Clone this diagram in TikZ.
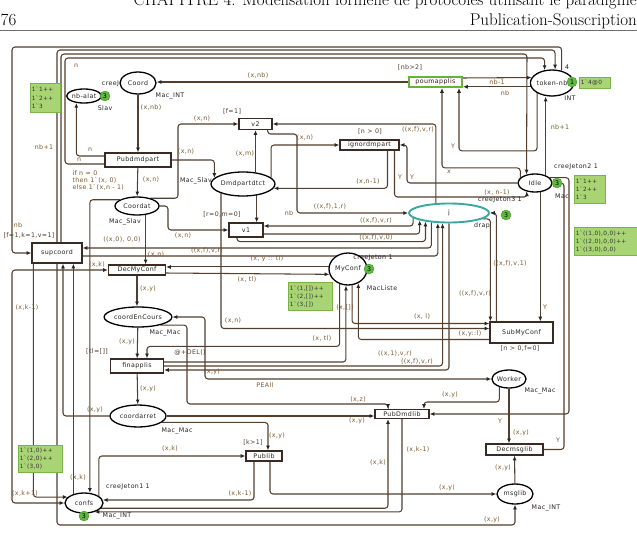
\documentclass[tikz,border=0pt]{standalone}
\usepackage{fontspec}
\usetikzlibrary{shapes.geometric,arrows.meta,calc}
\pgfdeclarelayer{background}
\pgfsetlayers{background,main}
\newfontfamily\cpnfam[LetterSpace=6]{DejaVu Sans}
\newcommand\cpnf{\cpnfam\fontsize{6.3}{7}\selectfont}
\newcommand\mkf{\cpnfam\fontsize{5.8}{8.2}\selectfont}
\definecolor{arcc}{RGB}{84,62,46}
\definecolor{insc}{RGB}{120,88,45}
\definecolor{guardc}{RGB}{78,60,46}
\definecolor{namec}{RGB}{40,36,34}
\definecolor{transc}{RGB}{58,42,34}
\definecolor{tokg}{RGB}{96,184,64}
\definecolor{tokd}{RGB}{70,150,45}
\definecolor{markf}{RGB}{168,212,116}
\definecolor{markd}{RGB}{122,180,72}
\definecolor{tealc}{RGB}{58,168,158}
\definecolor{enab}{RGB}{100,180,60}
\definecolor{rulec}{RGB}{110,110,110}
\begin{document}
\begin{tikzpicture}[x=1pt,y=-1pt,
  place/.style={ellipse, draw=black, line width=1.3pt, fill=white, inner sep=0pt, font=\cpnf, text=namec},
  trans/.style={rectangle, draw=transc, line width=1.2pt, fill=white, inner sep=0pt, font=\cpnf, text=namec},
  cpnarc/.style={draw=arcc, line width=1.05pt, rounded corners=3pt, -{Latex[length=4.8pt,width=4pt,color=black!85]}},
  cpnbiarc/.style={draw=arcc, line width=1.05pt, rounded corners=3pt, {Latex[length=4.8pt,width=4pt,color=black!85]}-{Latex[length=4.8pt,width=4pt,color=black!85]}},
  lblins/.style={font=\cpnf, text=insc, inner sep=0.3pt},
  lblgrd/.style={font=\cpnf, text=guardc, inner sep=0.3pt},
  lblcs/.style={font=\cpnf, text=namec, inner sep=0.3pt},
  tok/.style={circle, fill=tokg, draw=tokd, line width=0.4pt, minimum size=10pt, inner sep=0pt, font=\cpnf, text=black},
  mkbox/.style={rectangle, fill=markf, draw=markd, line width=0.6pt, inner xsep=1.5pt, inner ysep=1pt, font=\mkf, text=black!80, align=left, anchor=north west}]
\useasboundingbox (0,0) rectangle (637,533);

% header
\node[anchor=base east, font=\fontsize{17}{20}\selectfont, inner sep=0pt] (hd1) at (637,5) {CHAPITRE 4. Modélisation formelle de protocoles utilisant le paradigme};
\node[anchor=base east, font=\fontsize{17}{20}\selectfont, inner sep=0pt] (hd2) at (637,25) {Publication-Souscription};
\node[anchor=base west, font=\fontsize{17}{20}\selectfont, inner sep=0pt] (hd3) at (0.5,25) {76};
\draw[rulec, line width=0.5pt] (0,30) -- (637,30);

% places
\node[place, minimum width=36pt, minimum height=22pt] (Coord) at (138,83) {Coord};
\node[place, minimum width=32pt, minimum height=14pt] (nbalat) at (84,96) {nb-alat};
\node[place, minimum width=44pt, minimum height=18pt] (Coordat) at (137,206) {Coordat};
\node[place, minimum width=66pt, minimum height=20pt] (coordEnCours) at (138,317) {coordEnCours};
\node[place, minimum width=56pt, minimum height=22pt] (coordarret) at (138,416) {coordarret};
\node[place, minimum width=38pt, minimum height=20pt] (confs) at (84,503) {confs};
\node[place, minimum width=64pt, minimum height=24pt] (Dmdpartdtct) at (243,184) {Dmdpartdtct};
\node[place, minimum width=38pt, minimum height=32pt] (MyConf) at (348,269) {MyConf};
\node[place, draw=tealc, line width=1.9pt, minimum width=80pt, minimum height=19pt] (j) at (449,213) {j};
\node[place, minimum width=40pt, minimum height=26pt] (tokennb) at (552,83) {token-nb};
\node[place, minimum width=34pt, minimum height=18pt] (Idle) at (535,183) {Idle};
\node[place, minimum width=32pt, minimum height=18pt] (Worker) at (509,379) {Worker};
\node[place, minimum width=36pt, minimum height=20pt] (msglib) at (515,494) {msglib};

% transitions
\node[trans, minimum width=66pt, minimum height=14pt] (Pubdmdpart) at (138,160) {Pubdmdpart};
\node[trans, minimum width=50pt, minimum height=20pt] (supcoord) at (57,253) {supcoord};
\node[trans, minimum width=57pt, minimum height=10pt] (DecMyConf) at (137,270) {DecMyConf};
\node[trans, minimum width=53pt, minimum height=14pt] (finapplis) at (137,366) {finapplis};
\node[trans, minimum width=33pt, minimum height=11pt] (v2) at (255.5,124) {v2};
\node[trans, minimum width=34pt, minimum height=14pt] (v1) at (246,230) {v1};
\node[trans, minimum width=59pt, minimum height=10pt] (ignordmpart) at (369.5,145) {ignordmpart};
\node[trans, draw=enab, line width=1.9pt, minimum width=53pt, minimum height=10pt] (poumapplis) at (435.5,82) {poumapplis};
\node[trans, minimum width=63pt, minimum height=21pt] (SubMyConf) at (521.5,332.5) {SubMyConf};
\node[trans, minimum width=54pt, minimum height=9pt] (PubDmdlib) at (402,414) {PubDmdlib};
\node[trans, minimum width=36pt, minimum height=10pt] (Publib) at (264,456) {Publib};
\node[trans, minimum width=57pt, minimum height=11pt] (Decmsglib) at (514.5,449.5) {Decmsglib};

\begin{pgfonlayer}{background}
% top loops
\draw[cpnarc] (tokennb.52) |- (12,47) |- (supcoord.west);
\draw[cpnarc] (supcoord.north) |- (555,50) -- (tokennb.77);
\draw[cpnarc] ($(supcoord.north)+(4,0)$) |- (527,54) -- (Idle.135);
\draw[cpnarc] ($(Pubdmdpart.west)+(0,4)$) -| (65,58) -| (tokennb.120);
\draw[cpnarc] ($(Pubdmdpart.west)+(0,-4)$) -| (nbalat.222);
% coord part
\draw[cpnarc] (Coord) -- (Pubdmdpart);
\draw[cpnarc] (poumapplis.west) -- (poumapplis.west -| Coord.east);
\draw[cpnarc] (Pubdmdpart) -- (Coordat);
\draw[cpnarc] (Pubdmdpart.east) -| (Dmdpartdtct.168);
\draw[cpnarc] (Coordat.30) -| (178,124) -- (v2.west);
\draw[cpnarc] (Dmdpartdtct.43) -- (Dmdpartdtct.43 |- v2.south);
\draw[cpnarc] (j.143) |- (v2.east);
\draw[cpnarc] ($(v2.south east)+(-5,0)$) |- (297,134) |- (j.west);
\draw[cpnarc] (Dmdpartdtct.13) |- (ignordmpart.west);
\draw[cpnarc] ($(ignordmpart.south)+(18,0)$) |- (Dmdpartdtct.352);
\draw[cpnarc] (Idle.west) -| (407,145) -- (ignordmpart.east);
\draw[cpnarc] ($(ignordmpart.south)+(25,0)$) |- (527,197) -- (Idle.225);
\draw[cpnarc] (Idle.160) |- ($(poumapplis.south)+(6.5,80)$) -- ($(poumapplis.south)+(6.5,0)$);
\draw[cpnarc] (tokennb.214) |- ($(poumapplis.south)+(23.5,63)$) -- ($(poumapplis.south)+(23.5,0)$);
\draw[cpnarc] ($(poumapplis.east)+(0,-4)$) -- (tokennb.165);
\draw[cpnarc] (tokennb.190) -- (tokennb.190 -| poumapplis.east);
\draw[cpnarc] (Idle.36) -- (Idle.36 |- tokennb.south);
\draw[cpnarc] (Decmsglib.east) -| (564,183) -- (Idle.east);
\draw[cpnarc] (Idle.20) -| (569,414) -- (PubDmdlib.east);
\draw[cpnarc] (Idle.300) -- (Idle.300 |- SubMyConf.north);
\draw[cpnarc] ($(SubMyConf.north west)+(7,0)$) |- (j.east);
\draw[cpnarc] (j.350) -| ($(SubMyConf.north west)+(1,0)$);
% j / v1 bundle
\draw[cpnarc] (j.188) |- ($(v1.east)+(0,-4)$);
\draw[cpnarc] ($(v1.east)+(0,4)$) -| (j.194);
\draw[cpnarc] ($(v1.south)+(-9,0)$) -- ++(0,4) -| (j.200);
\draw[cpnarc] (j.208) |- ($(supcoord.east)+(0,-5)$);
\draw[cpnarc] ($(supcoord.east)+(0,3)$) -| (j.222);
\draw[cpnarc] (Dmdpartdtct.320) -- (Dmdpartdtct.320 |- v1.north);
\draw[cpnarc] (Coordat.east) -| (168,230) -- (v1.west);
\draw[cpnarc] (Coordat.314) -- (Coordat.314 |- DecMyConf.north);
\draw[cpnarc] (Coordat.160) -| (confs.60);
% left side
\draw[cpnbiarc] (DecMyConf.west) -| (12,503) -- (confs.west);
\draw[cpnarc] ($(supcoord.south west)+(2,0)$) |- (confs.160);
\draw[cpnarc] (confs.140) -- (confs.140 |- supcoord.south);
\draw[cpnarc] (coordarret.west) -| ($(supcoord.south)+(6,0)$);
\draw[cpnarc] (supcoord.south) -- (57,525) -| (msglib.south);
% central column
\draw[cpnarc] (DecMyConf.south) -- (DecMyConf.south |- coordEnCours.north);
\draw[cpnarc] (coordEnCours) -- (finapplis);
\draw[cpnarc] (finapplis) -- (coordarret);
\draw[cpnarc] (MyConf.174) -- (MyConf.174 -| DecMyConf.east);
\draw[cpnarc] ($(DecMyConf.east)+(0,3)$) -- (MyConf.196);
\draw[cpnarc] (MyConf.241) |- ($(finapplis.north)+(10,-12)$) -- ($(finapplis.north)+(10,0)$);
\draw[cpnarc] ($(finapplis.east)+(0,-4)$) -| (MyConf.263);
\draw[cpnarc] (MyConf.284) |- ($(SubMyConf.west)+(0,-9)$);
\draw[cpnarc] (Dmdpartdtct.203) |- ($(SubMyConf.west)+(0,-4)$);
\draw[cpnarc] ($(SubMyConf.west)+(0,7)$) -| (MyConf.306);
\draw[cpnarc] (finapplis.east) -| (j.238);
\draw[cpnarc] (j.south) |- ($(finapplis.east)+(0,4)$);
\draw[cpnbiarc] (coordEnCours.east) -| (205,379) -- (Worker.west);
\draw[cpnarc] (coordEnCours.340) -| (187,404) -| ($(PubDmdlib.north)+(-14,0)$);
\draw[cpnarc] (Worker.220) |- (424,402) -- ($(PubDmdlib.north)+(22,0)$);
\draw[cpnarc] (Worker.south) -- (Worker.south |- Decmsglib.north);
\draw[cpnarc] (coordarret.east) -- (coordarret.east -| PubDmdlib.west);
\draw[cpnarc] (coordarret.345) -| ($(Publib.north)+(4,0)$);
\draw[cpnarc] (confs.25) |- (Publib.west);
\draw[cpnarc] ($(Publib.south)+(-10,0)$) |- (confs.9);
\draw[cpnarc] ($(Publib.south)+(6,0)$) |- (msglib.west);
\draw[cpnarc] (confs.343) -| ($(PubDmdlib.south)+(-14,0)$);
\draw[cpnarc] (PubDmdlib.south) |- (confs.320);
\draw[cpnarc] (msglib) -- (Decmsglib);
\end{pgfonlayer}

% arc inscriptions
\node[lblins] (l1) at (151,108) {(x,nb)};
\node[lblins] (l2) at (258,76) {(x,nb)};
\node[lblins] (l3) at (76,66) {n};
\node[lblins] (l4) at (90,150) {n};
\node[lblins] (l5) at (79,160) {n};
\node[lblins] (l6) at (44,147) {nb+1};
\node[lblins] (l7) at (186,152) {(x,n)};
\node[lblins] (l8) at (202,119) {(x,n)};
\node[lblins] (l9) at (245,154) {(x,m)};
\node[lblins] (l10) at (305,138) {(x,n)};
\node[lblins] (l11) at (368,182) {(x,n-1)};
\node[lblins] (l12) at (400,177) {Y};
\node[lblins] (l13) at (412,177) {Y};
\node[lblins] (l14) at (453,146) {Y};
\node[lblins] (l15) at (449,172) {x};
\node[lblins] (l16) at (418,130) {((x,f),v,r)};
\node[lblins] (l17) at (330,207) {((x,f),1,r)};
\node[lblins] (l18) at (376,221) {((x,f),v,r)};
\node[lblins] (l19) at (376,238) {((x,f),v,0)};
\node[lblins] (l20) at (289,213) {nb};
\node[lblins] (l21) at (151,180) {(x,n)};
\node[lblins] (l22) at (122,240) {((x,0), 0,0)};
\node[lblins] (l23) at (156,255) {(x,n)};
\node[lblins] (l24) at (207,251) {((x,f),v,r)};
\node[lblins] (l25) at (183,236) {(x,n)};
\node[lblins] (l26) at (267,259) {(x, y :: tl)};
\node[lblins] (l27) at (247,280) {(x, tl)};
\node[lblins] (l28) at (345,308) {(x,[])};
\node[lblins] (l29) at (233,321) {(x,n)};
\node[lblins] (l30) at (322,339) {(x, tl)};
\node[lblins] (l31) at (422,317) {(x, l)};
\node[lblins] (l32) at (470,334) {(x,y::l)};
\node[lblins] (l33) at (510,264) {((x,f),v,1)};
\node[lblins] (l34) at (475,294) {((x,f),v,r)};
\node[lblins] (l35) at (545,307) {Y};
\node[lblins] (l36) at (97,265) {(x,k)};
\node[lblins] (l37) at (27,308) {(x,k-1)};
\node[lblins] (l38) at (148,289) {(x,y)};
\node[lblins] (l39) at (127,342) {(x,y)};
\node[lblins] (l40) at (148,389) {(x,y)};
\node[lblins] (l41) at (95,410) {(x,y)};
\node[lblins] (l42) at (212,372) {(x,y)};
\node[lblins] (l43) at (265,385) {PEAll};
\node[lblins] (l44) at (358,400) {(x,z)};
\node[lblins] (l45) at (357,421) {(x,y)};
\node[lblins] (l46) at (395,354) {((x,1),v,r)};
\node[lblins] (l47) at (417,362) {((x,f),v,r)};
\node[lblins] (l48) at (277,436) {(x,y)};
\node[lblins] (l49) at (170,449) {(x,k)};
\node[lblins] (l50) at (240,494) {(x,k-1)};
\node[lblins] (l51) at (378,463) {(x,k)};
\node[lblins] (l52) at (418,450) {(x,k-1)};
\node[lblins] (l53) at (450,395) {(x,y)};
\node[lblins] (l54) at (521,433) {(x,y)};
\node[lblins] (l55) at (503,468) {(x,y)};
\node[lblins] (l56) at (447,488) {(x,y)};
\node[lblins] (l57) at (492,520) {(x,y)};
\node[lblins] (l58) at (500,421) {Y};
\node[lblins] (l59) at (558,440) {Y};
\node[lblins] (l60) at (560,127) {nb+1};
\node[lblins] (l61) at (497,82) {nb-1};
\node[lblins] (l62) at (505,93) {nb};
\node[lblins] (l63) at (78,478) {(x,k)};
\node[lblins] (l64) at (25,494) {(x,k+1)};
\node[lblins] (l65) at (497,193) {(x, n-1)};
\node[lblins] (l66) at (18,225) {nb};
\node[lblins, align=left, anchor=north west] (l67) at (72,170) {if n = 0\\then 1`(x, 0)\\else 1`(x,n - 1)};

% guards
\node[lblgrd] (g1) at (410,68) {[nb>2]};
\node[lblgrd] (g2) at (370,132) {[n > 0]};
\node[lblgrd] (g3) at (232,112) {[f=1]};
\node[lblgrd] (g4) at (222,215) {[r=0,m=0]};
\node[lblgrd] (g5) at (253,443) {[k>1]};
\node[lblgrd] (g6) at (97,352) {[tl=[]]};
\node[lblgrd] (g7) at (190,353) {@+DEL()};
\node[lblgrd, anchor=west] (g8) at (3,236) {[f=1,k=1,v=1]};
\node[lblgrd] (g9) at (520,349) {[n > 0,f=0]};

% colour sets and place labels
\node[lblcs, anchor=east] (cj0) at (119.5,84) {creeJ};
\node[lblcs] (c1) at (170,96) {Mac\_INT};
\node[lblcs] (c2) at (105,108) {Slav};
\node[lblcs] (c3) at (125,222) {Mac\_Slav};
\node[lblcs] (c4) at (196,181) {Mac\_Slav};
\node[lblcs] (c5) at (165,333) {Mac\_Mac};
\node[lblcs] (c6) at (177,431) {Mac\_Mac};
\node[lblcs] (c7) at (117,516) {Mac\_INT};
\node[lblcs] (c8) at (382,288) {MacListe};
\node[lblcs] (c9) at (570,98) {INT};
\node[lblcs] (c10) at (562,196) {Mac};
\node[lblcs] (c11) at (540,391) {Mac\_Mac};
\node[lblcs] (c12) at (546,508) {Mac\_INT};
\node[lblcs] (c13) at (567,67) {4};
\node[lblcs] (c14) at (482,226) {drap};
\node[lblcs] (c15) at (373,258) {creeJeton 1};
\node[lblcs] (c16) at (576,167) {creeJeton2 1};
\node[lblcs] (c17) at (500,200) {creeJeton3 1};
\node[lblcs] (c18) at (128,487) {creeJeton1 1};

% token counts
\node[tok] (t1) at (105,96) {3};
\node[tok] (t2) at (572,82) {1};
\node[tok] (t3) at (557,183) {3};
\node[tok] (t4) at (506,215) {3};
\node[tok] (t5) at (369,269) {3};
\node[tok] (t6) at (84,516) {3};

% markings
\node[mkbox, text width=27pt, minimum height=29pt] (m1) at (30,83) {1`1++\\1`2++\\1`3};
\node[mkbox, text width=28pt, minimum height=11pt] (m2) at (579,77) {1`4@0};
\node[mkbox, text width=28pt, minimum height=28pt] (m3) at (574,175) {1`1++\\1`2++\\1`3};
\node[mkbox, text width=63pt, minimum height=28pt] (m4) at (574,227) {1`((1,0),0,0)++\\1`((2,0),0,0)++\\1`((3,0),0,0)};
\node[mkbox, text width=41pt, minimum height=28pt] (m5) at (288,282) {1`(1,[])++\\1`(2,[])++\\1`(3,[])};
\node[mkbox, text width=41pt, minimum height=27pt] (m6) at (18,445) {1`(1,0)++\\1`(2,0)++\\1`(3,0)};
\end{tikzpicture}
\end{document}
